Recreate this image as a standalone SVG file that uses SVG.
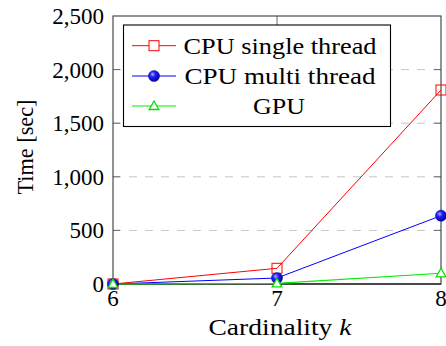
<svg xmlns="http://www.w3.org/2000/svg" width="446" height="346" viewBox="0 0 446 346">
<style>
.grid{stroke:#c4c4c4;stroke-width:1;stroke-dasharray:8 8;fill:none}
.tk{stroke:#6a6a6a;stroke-width:1;fill:none}
.frame{stroke:#3a3a3a;stroke-width:1.1;fill:none}
.red{stroke:#ff0000;stroke-width:1;fill:none}
.blue{stroke:#0000ff;stroke-width:1;fill:none}
.green{stroke:#00ee00;stroke-width:1.1;fill:none}
.sq{stroke:#ff0000;stroke-width:1;fill:none}
.tri{stroke:#00e000;stroke-width:1.3;fill:#ffffff}
.ball{fill:url(#bg);stroke:#00008a;stroke-width:0.4}
</style>
<defs>
<radialGradient id="bg" cx="0.38" cy="0.35" r="0.7">
<stop offset="0" stop-color="#b0b0ff"/>
<stop offset="0.35" stop-color="#2020ff"/>
<stop offset="1" stop-color="#00008c"/>
</radialGradient>
<rect id="msq" x="-5" y="-5" width="10" height="10" class="sq"/>
<circle id="mball" r="5.6" class="ball"/>
<polygon id="mtri" points="0,-5 4.8,3.5 -4.8,3.5" class="tri"/>
</defs>

<g id="grid">
<line class="grid" x1="113" y1="230.4" x2="441" y2="230.4"/>
<line class="grid" x1="113" y1="176.8" x2="441" y2="176.8"/>
<line class="grid" x1="113" y1="123.2" x2="441" y2="123.2"/>
<line class="grid" x1="113" y1="69.6" x2="441" y2="69.6"/>
</g>
<g id="ticks">
<path class="tk" d="M113 230.4h7M113 176.8h7M113 123.2h7M113 69.6h7M441 230.4h-7M441 176.8h-7M441 123.2h-7M441 69.6h-7M277 284v-7M277 16v9"/>
</g>
<g id="frame">
<rect class="frame" x="113" y="16" width="328" height="268"/>
<line x1="113" y1="284" x2="441" y2="284" stroke="#000" stroke-width="1.2"/>
</g>

<g id="ylabels" font-size="23" text-anchor="end" font-family="Liberation Serif">
<text x="104" y="292">0</text>
<text x="104" y="238.4">500</text>
<text x="104" y="184.8">1,000</text>
<text x="104" y="131.2">1,500</text>
<text x="104" y="77.6">2,000</text>
<text x="104" y="24">2,500</text>
</g>
<g id="xlabels" font-size="23" text-anchor="middle" font-family="Liberation Serif">
<text x="113" y="305.5">6</text>
<text x="277" y="305.5">7</text>
<text x="441" y="305.5">8</text>
</g>
<text id="xtitle" x="280" y="335" text-anchor="middle" font-size="23" font-family="Liberation Serif" textLength="143" lengthAdjust="spacingAndGlyphs">Cardinality <tspan font-style="italic">k</tspan></text>
<text id="ytitle" transform="translate(33,147) rotate(-90)" text-anchor="middle" font-size="23" font-family="Liberation Serif" textLength="95" lengthAdjust="spacingAndGlyphs">Time [sec]</text>

<g id="connectors">
<polyline class="red" points="113,284 277,268.3 441,90"/>
<polyline class="blue" points="113,284 277,278 441,215.7"/>
<polyline class="green" points="113,284 277,283.4 441,273.3"/>
</g>

<g id="series-cpu-single">
<use href="#msq" x="113" y="284"/>
<use href="#msq" x="277" y="268.3"/>
<use href="#msq" x="441" y="90"/>
</g>
<g id="series-cpu-multi">
<use href="#mball" x="113" y="284"/>
<use href="#mball" x="277" y="278"/>
<use href="#mball" x="441" y="215.7"/>
</g>
<g id="series-gpu">
<use href="#mtri" x="113" y="284"/>
<use href="#mtri" x="277" y="283.4"/>
<use href="#mtri" x="441" y="273.3"/>
</g>

<g id="legend" font-family="Liberation Serif">
<rect x="123.5" y="25" width="267" height="101.5" fill="#fff" stroke="#000" stroke-width="1.1"/>
<path class="red" d="M132 45.7h17M159 45.7h17"/>
<rect x="149" y="40.7" width="10" height="10" fill="#fff" stroke="#ff0000" stroke-width="1"/>
<line class="blue" x1="132" y1="76" x2="176" y2="76"/>
<use href="#mball" x="154" y="76"/>
<line class="green" x1="132" y1="106" x2="176" y2="106"/>
<use href="#mtri" x="154" y="106"/>
<text x="280" y="53.5" text-anchor="middle" font-size="24" textLength="193" lengthAdjust="spacingAndGlyphs">CPU single thread</text>
<text x="280" y="83.5" text-anchor="middle" font-size="24" textLength="191" lengthAdjust="spacingAndGlyphs">CPU multi thread</text>
<text x="279" y="113.5" text-anchor="middle" font-size="24" textLength="52" lengthAdjust="spacingAndGlyphs">GPU</text>
</g>
</svg>
